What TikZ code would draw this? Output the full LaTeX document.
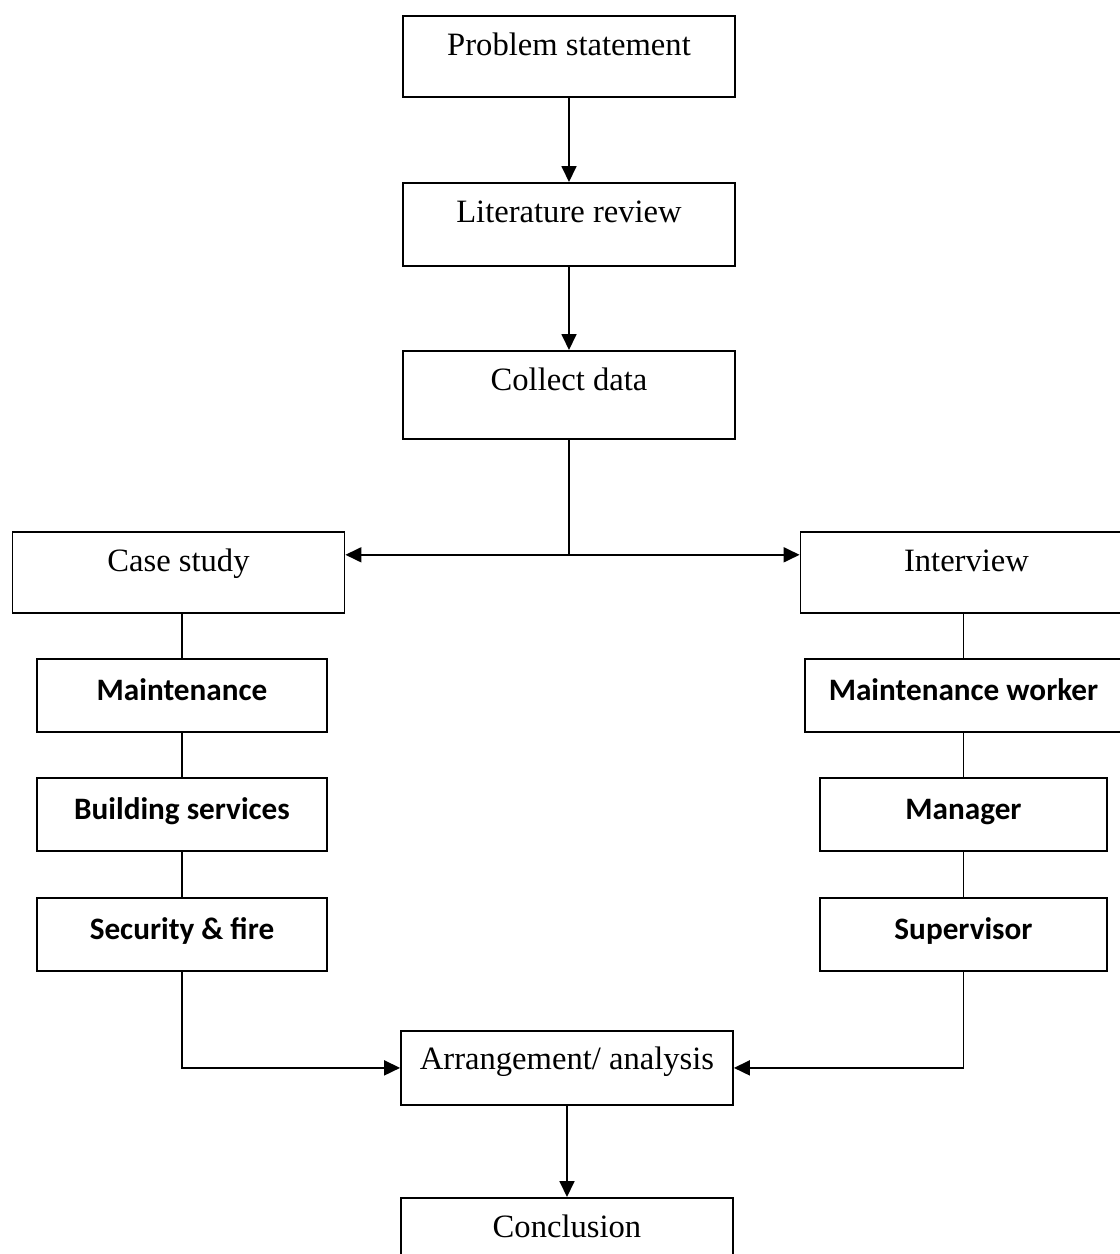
\documentclass[tikz,border=0pt]{standalone}
\usepackage{fontspec}
\setmainfont{Liberation Serif}
\newfontfamily\calfont{Carlito}
\usetikzlibrary{arrows.meta,positioning}

\begin{document}
\begin{tikzpicture}[x = 0.5pt, y = -0.5pt,
						box/.style = {rectangle, draw, line width = 0.9pt, inner sep = 0pt, text height = 20pt, text depth = 20.5pt, minimum width = 166pt, font = \fontsize{16.3}{19}\selectfont},
						subbox/.style = {box, text height = 21pt, text depth = 15.5pt, minimum width = 145pt, font = \calfont\bfseries\fontsize{15.6}{19}\selectfont},
						pathstyle/.style = {-{Triangle[length = 8pt, width = 7.5pt]}, line width = 0.9pt},
						linestyle/.style = {line width = 0.9pt}]
		\useasboundingbox (0,0) rectangle (1120,1254);
		% Main column
		\node (prob) at (569,15) [box, anchor = north] {Problem statement};
		\node (lit) [box, below = 42.1pt of prob, text depth = 21.5pt] {Literature review};
		\node (coll) [box, below = 41.6pt of lit, text depth = 24pt] {Collect data};
		\draw [pathstyle] (prob) -- (lit);
		\draw [pathstyle] (lit) -- (coll);
		% Split into the two branches
		\node (case) at (178.5,531) [box, anchor = north] {Case study};
		\node (intv) at (966.5,531) [box, anchor = north] {Interview};
		\coordinate [below = 57.5pt of coll.south] (fork);
		\draw [linestyle] (coll) -- (fork);
		\draw [pathstyle] (fork) -- (case.east |- fork);
		\draw [pathstyle] (fork) -- (intv.west |- fork);
		% Left branch
		\node (mnt) at (182,658) [subbox, anchor = north] {Maintenance};
		\node (bld) [subbox, below = 22.1pt of mnt] {Building services};
		\node (sec) [subbox, below = 22.6pt of bld] {Security \& fire};
		\draw [linestyle] (case.south -| mnt) -- (mnt.north);
		\draw [linestyle] (mnt) -- (bld);
		\draw [linestyle] (bld) -- (sec);
		% Right branch
		\node (wrk) at (963.5,658) [subbox, anchor = north, minimum width = 158.5pt] {Maintenance worker};
		\node (mgr) [subbox, below = 22.1pt of wrk, minimum width = 143.5pt] {Manager};
		\node (sup) [subbox, below = 22.6pt of mgr, minimum width = 143.5pt] {Supervisor};
		\draw [linestyle] (intv.south -| wrk) -- (wrk.north);
		\draw [linestyle] (wrk) -- (mgr);
		\draw [linestyle] (mgr) -- (sup);
		% Merge and end
		\node (arr) at (567,1030) [box, anchor = north, text height = 19.5pt, text depth = 17.5pt] {Arrangement/ analysis};
		\node (conc) [box, below = 45.6pt of arr] {Conclusion};
		\draw [pathstyle] (sec.south) |- (arr.west);
		\draw [pathstyle] (sup.south) |- (arr.east);
		\draw [pathstyle] (arr) -- (conc);
	\end{tikzpicture}
\end{document}
